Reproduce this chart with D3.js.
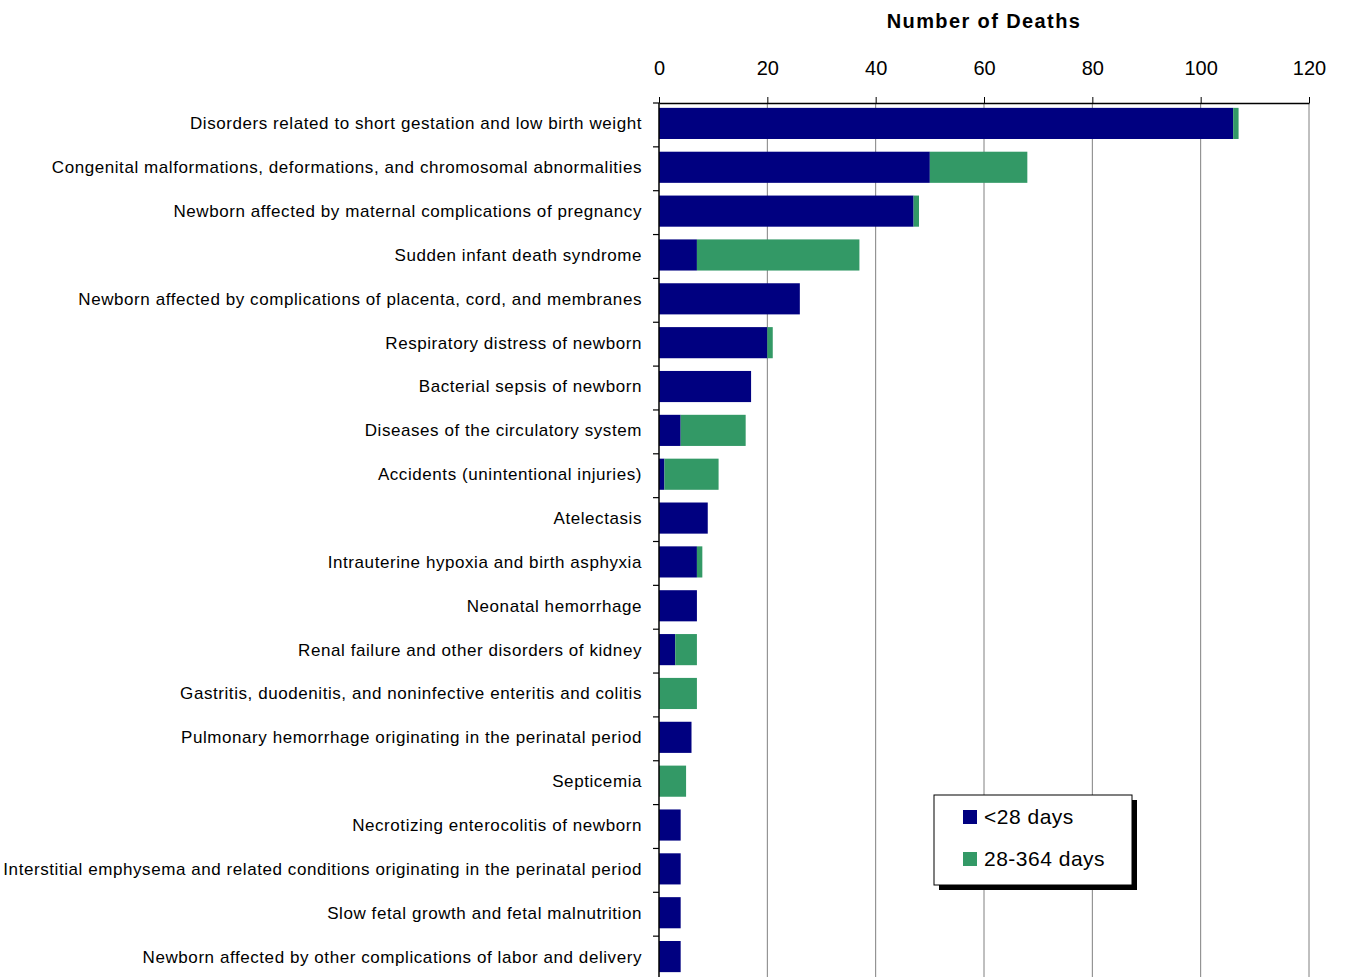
<!DOCTYPE html>
<html>
<head>
<meta charset="utf-8">
<script src="https://cdn.jsdelivr.net/npm/d3@7"></script>
<style>
  body { margin: 0; background: #fff; }
  svg { display: block; font-family: "Liberation Sans", Arial, sans-serif; }
</style>
</head>
<body>
<svg id="chart" width="1345" height="977"></svg>
<script>
const categories = [
  "Disorders related to short gestation and low birth weight",
  "Congenital malformations, deformations, and chromosomal abnormalities",
  "Newborn affected by maternal complications of pregnancy",
  "Sudden infant death syndrome",
  "Newborn affected by complications of placenta, cord, and membranes",
  "Respiratory distress of newborn",
  "Bacterial sepsis of newborn",
  "Diseases of the circulatory system",
  "Accidents (unintentional injuries)",
  "Atelectasis",
  "Intrauterine hypoxia and birth asphyxia",
  "Neonatal hemorrhage",
  "Renal failure and other disorders of kidney",
  "Gastritis, duodenitis, and noninfective enteritis and colitis",
  "Pulmonary hemorrhage originating in the perinatal period",
  "Septicemia",
  "Necrotizing enterocolitis of newborn",
  "Interstitial emphysema and related conditions originating in the perinatal period",
  "Slow fetal growth and fetal malnutrition",
  "Newborn affected by other complications of labor and delivery"
];
const neonatal = [106, 50, 47, 7, 26, 20, 17, 4, 1, 9, 7, 7, 3, 0, 6, 0, 4, 4, 4, 4];
const postneonatal = [1, 18, 1, 30, 0, 1, 0, 12, 10, 0, 1, 0, 4, 7, 0, 5, 0, 0, 0, 0];
const seriesNames = ["<28 days", "28-364 days"];
const seriesColors = ["#000080", "#339966"];
const xTicks = [0, 20, 40, 60, 80, 100, 120];

const svg = d3.select("#chart");
const pLeft = 659, pRight = 1309, pTop = 103, pBottom = 980;

const x = d3.scaleLinear().domain([0, 120]).range([pLeft, pRight]);
const y = d3.scaleBand().domain(categories).range([pTop, pBottom]).paddingInner(0.29).paddingOuter(0.145);

// gridlines
svg.append("g").selectAll("line").data(xTicks.slice(1)).join("line")
  .attr("x1", d => x(d)).attr("x2", d => x(d))
  .attr("y1", pTop).attr("y2", 977)
  .attr("stroke", "#808080").attr("stroke-width", 1);

// stacked data
const rows = categories.map((c, i) => ({cat: c, a: neonatal[i], b: postneonatal[i]}));
const stack = d3.stack().keys(["a", "b"])(rows);

const barOffset = -1.5;
svg.append("g").selectAll("g").data(stack).join("g")
  .attr("fill", (d, i) => seriesColors[i])
  .selectAll("rect").data(d => d.filter(s => s[1] - s[0] > 0)).join("rect")
  .attr("x", d => x(d[0]))
  .attr("y", d => y(d.data.cat) + barOffset)
  .attr("width", d => x(d[1]) - x(d[0]))
  .attr("height", y.bandwidth());

// top axis
const xAxis = d3.axisTop(x).tickValues(xTicks).tickSize(6).tickSizeOuter(0).tickPadding(22);
const gx = svg.append("g").attr("transform", `translate(0,${pTop})`).call(xAxis);
gx.select(".domain").attr("stroke", "#000").attr("stroke-width", 1.5);
gx.selectAll(".tick line").attr("stroke", "#000");
gx.selectAll(".tick text").attr("font-size", 20).attr("fill", "#000")
  .attr("font-family", "'Liberation Sans', Arial, sans-serif");

// left axis line
svg.append("line").attr("x1", pLeft).attr("x2", pLeft).attr("y1", pTop).attr("y2", 977)
  .attr("stroke", "#000").attr("stroke-width", 1.5);

// left ticks at band boundaries
const step = y.step();
const boundaries = d3.range(categories.length + 1).map(i => pTop + i * step);
svg.append("g").selectAll("line").data(boundaries).join("line")
  .attr("x1", pLeft - 6).attr("x2", pLeft)
  .attr("y1", d => d).attr("y2", d => d)
  .attr("stroke", "#000").attr("stroke-width", 1.2);

// category labels
svg.append("g").selectAll("text").data(categories).join("text")
  .attr("x", 642)
  .attr("y", d => y(d) + y.bandwidth() / 2 + barOffset)
  .attr("dy", "0.35em")
  .attr("text-anchor", "end")
  .attr("font-size", 17)
  .attr("letter-spacing", 0.57)
  .attr("fill", "#000")
  .text(d => d);

// axis title
svg.append("text").attr("x", (pLeft + pRight) / 2).attr("y", 28)
  .attr("text-anchor", "middle").attr("font-size", 20).attr("font-weight", "bold")
  .attr("letter-spacing", 1.4)
  .text("Number of Deaths");

// legend
const lg = svg.append("g").attr("transform", "translate(934,795)");
lg.append("rect").attr("x", 5).attr("y", 5).attr("width", 198).attr("height", 90).attr("fill", "#000");
lg.append("rect").attr("x", 0).attr("y", 0).attr("width", 198).attr("height", 90)
  .attr("fill", "#fff").attr("stroke", "#000").attr("stroke-width", 1);
seriesNames.forEach((n, i) => {
  lg.append("rect").attr("x", 29).attr("y", 15 + i * 42).attr("width", 14).attr("height", 14)
    .attr("fill", seriesColors[i]);
  lg.append("text").attr("x", 50).attr("y", 29 + i * 42).attr("font-size", 21)
    .attr("letter-spacing", 0.5).text(n);
});
</script>
</body>
</html>
